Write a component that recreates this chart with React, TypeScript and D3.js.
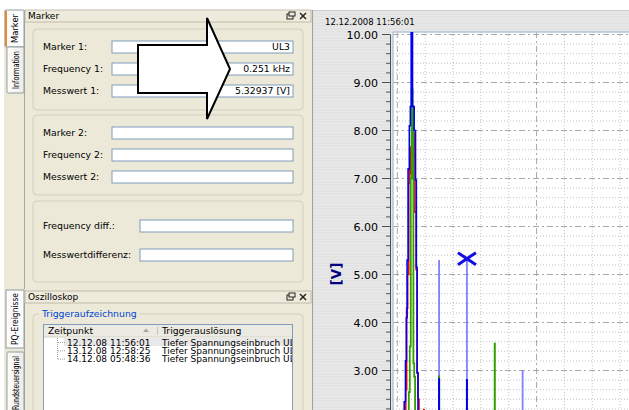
import React from 'react';
import * as d3 from 'd3';

const W = 629;
const H = 410;

// ---------- chart data ----------
const chartTitle = '12.12.2008 11:56:01';
const yAxisLabel = '[V]';
const yTickValues = [3, 4, 5, 6, 7, 8, 9, 10];
const xGridValues = [0, 0.1, 0.2, 0.3, 0.4, 0.5, 0.6, 0.7, 0.8];
const xMajorGrid = [0, 0.5];

// fundamental cluster (kHz, V)
const l1Freq = [0.0294, 0.0312, 0.0359, 0.0384, 0.0438, 0.0456, 0.051, 0.0564, 0.061, 0.0654, 0.0697, 0.0732, 0.0761, 0.0797];
const l1Val = [1.5, 2.6, 4.3, 5.0, 6.9, 7.65, 7.1, 7.45, 7.95, 6.3, 5.1, 2.95, 2.4, 1.5];
const l2Freq = [0.0395, 0.0431, 0.0467, 0.0499, 0.0535, 0.0564, 0.0592, 0.0621, 0.0657];
const l2Val = [1.5, 2.55, 3.5, 7.0, 8.85, 8.5, 3.15, 2.87, 1.5];
const l3Freq = [0.0223, 0.0276, 0.0312, 0.0338, 0.0366, 0.0409, 0.0456, 0.0481, 0.0517, 0.0575, 0.0636, 0.0671, 0.0697, 0.0725, 0.0761];
const l3Val = [1.5, 2.35, 3.2, 4.1, 5.3, 7.2, 8.1, 8.5, 10.5, 8.5, 8.0, 6.97, 5.15, 2.95, 1.5];

// harmonics (kHz, V)
const harmFreq = [0.0959, 0.15, 0.25, 0.35, 0.45];
const harmL1 = [2.2, null, null, null, null];
const harmL2 = [null, 2.9, null, 3.58, null];
const harmL3 = [null, 2.84, 2.82, null, null];
const harmRef = [null, 5.3, 5.33, null, 3.01];

const markerFreq = 0.25;
const markerVal = 5.33;

// ---------- side panel data ----------
const group1Labels = ['Marker 1:', 'Frequency 1:', 'Messwert 1:'];
const group1Values = ['UL3', '0.251 kHz', '5.32937 [V]'];
const group1Y = [41, 63, 85];
const group2Labels = ['Marker 2:', 'Frequency 2:', 'Messwert 2:'];
const group2Y = [127, 149, 171];
const group3Labels = ['Frequency diff.:', 'Messwertdifferenz:'];
const group3Y = [220, 249];
const triggerTimes = ['12.12.08 11:56:01', '13.12.08 12:58:25', '14.12.08 05:48:36'];
const triggerCauses = ['Tiefer Spannungseinbruch UL3', 'Tiefer Spannungseinbruch UL1', 'Tiefer Spannungseinbruch UL2'];

const FONT = '"DejaVu Sans", Verdana, sans-serif';
const BEIGE = '#ECE9D8';

function VTab({ x, y, w, h, label, selected }: any) {
  const cx = x + w / 2;
  const cy = y + h / 2;
  return (
    <g>
      <rect x={x} y={y} width={w} height={h} fill={selected ? '#FCFCFE' : 'url(#tabGrad)'} stroke="#919B9C" strokeWidth={1} rx={1} />
      {selected && <rect x={x} y={y + 1} width={2} height={h - 2} fill="#E68B2C" />}
      <text x={cx} y={cy} transform={`rotate(-90 ${cx} ${cy})`} textAnchor="middle" dy="3" fontSize={8} fontFamily={FONT} fill="#000"
        textLength={h - 8} lengthAdjust="spacingAndGlyphs">{label}</text>
    </g>
  );
}

function PanelHeader({ y, title }: any) {
  return (
    <g>
      <rect x={25} y={y} width={286} height={12} fill="#EEEBDD" stroke="#B4B19F" strokeWidth={0.8} />
      <text x={28} y={y + 9} fontSize={9} fontFamily={FONT} fill="#000">{title}</text>
      <rect x={287} y={y + 4} width={6} height={5} fill="none" stroke="#222" strokeWidth={1} />
      <rect x={289} y={y + 2} width={6} height={4} fill="#EEEBDD" stroke="#222" strokeWidth={1} />
      <line x1={300} y1={y + 3} x2={306} y2={y + 9} stroke="#222" strokeWidth={1.4} />
      <line x1={306} y1={y + 3} x2={300} y2={y + 9} stroke="#222" strokeWidth={1.4} />
    </g>
  );
}

function Field({ label, value, y, boxX }: any) {
  return (
    <g>
      <text x={43} y={y + 9} fontSize={9.3} fontFamily={FONT} fill="#000">{label}</text>
      <rect x={boxX} y={y} width={293 - boxX} height={12} fill="#fff" stroke="#7F9DB9" strokeWidth={1} />
      {value && <text x={290} y={y + 9} textAnchor="end" fontSize={9.3} fontFamily={FONT} fill="#000">{value}</text>}
    </g>
  );
}

export default function App() {
  const plotL = 393, plotT = 32, plotR = 630, plotB = 411;
  const x = d3.scaleLinear().domain([-0.01544, 0.8355]).range([393, 630]);
  const y = d3.scaleLinear().domain([2, 10.05]).range([418.5, 32.1]);

  const minorY = d3.range(2.2, 10.01, 0.2).filter((v) => Math.abs(v - Math.round(v)) > 0.01);

  const mk = (fs: number[], vs: number[]) =>
    d3.line<[number, number]>().x((d) => x(d[0])).y((d) => y(d[1])).curve(d3.curveStep)(fs.map((f, i) => [f, vs[i]] as [number, number])) || '';

  const harm = (vals: (number | null)[], color: string, w: number) =>
    harmFreq.map((f, i) => vals[i] == null ? null : (
      <line key={color + i} x1={x(f)} x2={x(f)} y1={y(0)} y2={y(vals[i] as number)} stroke={color} strokeWidth={w} />
    ));

  const mx = x(markerFreq), my = y(markerVal);
  const rowH = 8.3;

  return (
    <svg width={W} height={H} style={{ position: 'absolute', left: 0, top: 0 }} xmlns="http://www.w3.org/2000/svg">
      <defs>
        <linearGradient id="tabGrad" x1="0" y1="0" x2="1" y2="0">
          <stop offset="0" stopColor="#FFFFFF" />
          <stop offset="1" stopColor="#ECEBE6" />
        </linearGradient>
        <pattern id="brushed" width="4" height="3" patternUnits="userSpaceOnUse">
          <rect width="4" height="3" fill="#E3E3E3" />
          <rect width="4" height="1" fill="#E9E9E9" />
        </pattern>
        <clipPath id="plotClip">
          <rect x={plotL} y={plotT} width={plotR - plotL} height={plotB - plotT} />
        </clipPath>
        <clipPath id="tableClip">
          <rect x={44} y={325} width={248} height={90} />
        </clipPath>
      </defs>

      <rect x={0} y={0} width={W} height={H} fill="#fff" />
      {/* ---------- left panel ---------- */}
      <rect x={4} y={10} width={308} height={400} fill={BEIGE} />
      <line x1={24.5} y1={10} x2={24.5} y2={289} stroke="#A7A6AA" strokeWidth={1} />
      <VTab x={5} y={10} w={19} h={37} label="Marker" selected />
      <VTab x={7} y={47} w={17} h={46} label="Information" />

      <PanelHeader y={10} title="Marker" />

      <rect x={33} y={29} width={270} height={81} rx={4} fill="none" stroke="#D0D0BF" strokeWidth={1} />
      {group1Labels.map((l, i) => <Field key={l} label={l} value={group1Values[i]} y={group1Y[i]} boxX={112} />)}
      <rect x={33} y={115} width={270} height={80} rx={4} fill="none" stroke="#D0D0BF" strokeWidth={1} />
      {group2Labels.map((l, i) => <Field key={l} label={l} y={group2Y[i]} boxX={112} />)}
      <rect x={33} y={201} width={270} height={81} rx={4} fill="none" stroke="#D0D0BF" strokeWidth={1} />
      {group3Labels.map((l, i) => <Field key={l} label={l} y={group3Y[i]} boxX={140} />)}

      {/* Oszilloskop panel */}
      <line x1={24.5} y1={303} x2={24.5} y2={410} stroke="#A7A6AA" strokeWidth={1} />
      <rect x={6} y={290} width={18} height={58} fill="#FCFCFE" stroke="#919B9C" />
      <text x={15} y={319} transform="rotate(-90 15 319)" textAnchor="middle" dy="3" fontSize={8} fontFamily={FONT} textLength={52} lengthAdjust="spacingAndGlyphs">PQ-Ereignisse</text>
      <VTab x={7} y={352} w={17} h={62} label="Rundsteuersignal" />
      <PanelHeader y={291} title="Oszilloskop" />

      <rect x={33} y={314} width={270} height={110} rx={4} fill="none" stroke="#D0D0BF" strokeWidth={1} />
      <rect x={39} y={309} width={100} height={10} fill={BEIGE} />
      <text x={42} y={317} fontSize={9.3} fontFamily={FONT} fill="#0046D5">Triggeraufzeichnung</text>

      <rect x={43.5} y={324.5} width={249} height={95} fill="#fff" stroke="#7F9DB9" strokeWidth={1} />
      <rect x={44} y={325} width={248} height={12} fill="#EBEAE3" />
      <line x1={44} y1={337} x2={292} y2={337} stroke="#D6D2C2" strokeWidth={1} />
      <line x1={157.5} y1={327} x2={157.5} y2={335} stroke="#C7C5B2" strokeWidth={1} />
      <text x={48} y={334} fontSize={9.3} fontFamily={FONT}>Zeitpunkt</text>
      <path d="M143,332 L146,328.5 L149,332 Z" fill="#ACA899" />
      <text x={162} y={334} fontSize={9.3} fontFamily={FONT}>Triggerauslösung</text>
      <g clipPath="url(#tableClip)">
        <rect x={64} y={338} width={229} height={8} fill="#E8E8E8" />
        <line x1={57.5} y1={338} x2={57.5} y2={359} stroke="#A0A0A0" strokeDasharray="1,1" />
        {triggerTimes.map((t, i) => (
          <g key={t}>
            <line x1={58} y1={342.5 + i * rowH} x2={65} y2={342.5 + i * rowH} stroke="#A0A0A0" strokeDasharray="1,1" />
            <text x={67} y={345.5 + i * rowH} fontSize={9} fontFamily={FONT}>{t}</text>
            <text x={162} y={345.5 + i * rowH} fontSize={9} fontFamily={FONT}>{triggerCauses[i]}</text>
          </g>
        ))}
      </g>

      {/* ---------- chart area ---------- */}
      <rect x={312} y={10} width={W - 312} height={400} fill="url(#brushed)" />
      <line x1={312} y1={10.5} x2={W} y2={10.5} stroke="#CFCFCF" />
      <line x1={312.5} y1={10} x2={312.5} y2={410} stroke="#A0A0A0" />
      <text x={325} y={25} fontSize={8.5} fontFamily={FONT} fill="#000">{chartTitle}</text>

      <rect x={plotL} y={plotT} width={plotR - plotL} height={plotB - plotT} fill="#fff" />
      {/* grid */}
      {minorY.map((v) => (
        <line key={'my' + v} x1={plotL} x2={plotR} y1={y(v)} y2={y(v)} stroke="#C4C4C4" strokeDasharray="1,2" />
      ))}
      {xGridValues.filter((v) => !xMajorGrid.includes(v)).map((v) => (
        <line key={'mx' + v} x1={x(v)} x2={x(v)} y1={plotT} y2={plotB} stroke="#C4C4C4" strokeDasharray="1,2" />
      ))}
      {yTickValues.map((v) => (
        <line key={'gy' + v} x1={plotL} x2={plotR} y1={y(v)} y2={y(v)} stroke="#A8A8A8" strokeDasharray="6,3,2,3" />
      ))}
      {xMajorGrid.map((v) => (
        <line key={'gx' + v} x1={x(v)} x2={x(v)} y1={plotT} y2={plotB} stroke="#A8A8A8" strokeDasharray="6,3,2,3" />
      ))}
      <line x1={plotL} y1={plotT} x2={plotR} y2={plotT} stroke="#B4C6DC" strokeWidth={1.5} />
      <line x1={plotL} y1={plotT} x2={plotL} y2={plotB} stroke="#B4C6DC" strokeWidth={1.5} />

      {/* y axis */}
      <line x1={390.5} x2={390.5} y1={y(10)} y2={H} stroke="#505050" />
      {yTickValues.map((v) => (
        <g key={'t' + v}>
          <line x1={382} x2={390} y1={y(v)} y2={y(v)} stroke="#505050" />
          <text x={378} y={y(v) + 4} textAnchor="end" fontSize={11} fontFamily={FONT} fill="#000">{d3.format('.2f')(v)}</text>
        </g>
      ))}
      {minorY.map((v) => (
        <line key={'mt' + v} x1={386} x2={390} y1={y(v)} y2={y(v)} stroke="#505050" />
      ))}
      <text x={336} y={274} transform="rotate(-90 336 274)" textAnchor="middle" dy="4.5" fontSize={13.5} fontWeight="bold" fontFamily={FONT} fill="#000080">{yAxisLabel}</text>

      {/* series */}
      <g clipPath="url(#plotClip)">
        <path d={mk(l1Freq, l1Val)} fill="none" stroke="#F00000" strokeWidth={1.6} />
        <path d={mk(l2Freq, l2Val)} fill="none" stroke="#33A000" strokeWidth={1.8} />
        <path d={mk(l3Freq, l3Val)} fill="none" stroke="#0000F0" strokeWidth={1.6} />
        {harm(harmRef, '#8080FF', 1.8)}
        {harm(harmL1, '#F00000', 2)}
        {harm(harmL2, '#33A000', 2)}
        {harm(harmL3, '#0000F0', 2)}
        <line x1={mx - 9} y1={my - 6} x2={mx + 9} y2={my + 6} stroke="#1010E0" strokeWidth={3} />
        <line x1={mx - 9} y1={my + 6} x2={mx + 9} y2={my - 6} stroke="#1010E0" strokeWidth={3} />
      </g>

      {/* overlay arrow */}
      <polygon points="138,45 207,45 207,18 230,69 207,119 207,93 138,93" fill="#fff" stroke="#000" strokeWidth={2} strokeLinejoin="miter" />
    </svg>
  );
}
